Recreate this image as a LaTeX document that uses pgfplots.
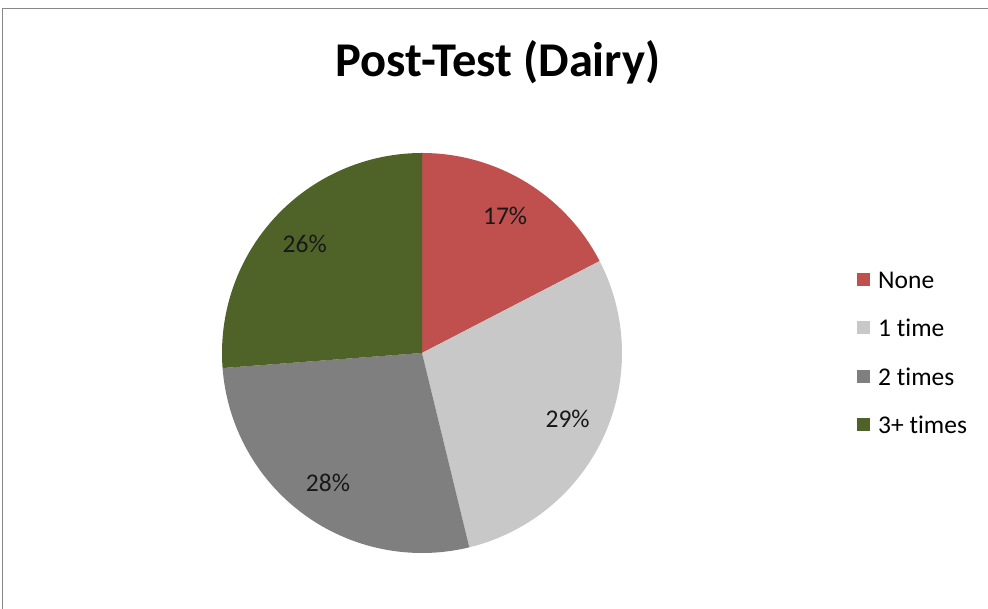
\documentclass[border=0pt]{standalone}
\usepackage{pgfplots}
\pgfplotsset{compat=1.18}
\usetikzlibrary{calc}
\usepackage{fontspec}
\setmainfont[RawFeature=-liga]{Carlito}
\definecolor{cNone}{HTML}{C0504D}
\definecolor{cOne}{HTML}{C8C8C8}
\definecolor{cTwo}{HTML}{7F7F7F}
\definecolor{cThree}{HTML}{4F6228}
\definecolor{frame}{HTML}{888888}
\begin{document}
\begin{tikzpicture}
\begin{axis}[x=1pt,y=1pt,xmin=0,xmax=988,ymin=0,ymax=609,hide axis,clip=false,scale only axis]
\addplot[draw=none] coordinates {(0,0) (988,609)};
\pgfplotsextra{
  \xdef\sa{90}
  \foreach \v/\c/\p in {17.4/cNone/17, 28.8/cOne/29, 27.6/cTwo/28, 26.2/cThree/26}{
    \pgfmathsetmacro\sb{\sa-3.6*\v}
    \pgfmathsetmacro\sm{(\sa+\sb)/2}
    \fill[\c] (axis cs:422,256) -- +(\sa:200pt) arc[start angle=\sa, end angle=\sb, radius=200pt] -- cycle;
    \node[font=\fontsize{25.5}{30}\selectfont, text=black!90] at ($(axis cs:422,256)+(\sm:160pt)$) {\p\%};
    \xdef\sa{\sb}
  }
  \draw[frame, line width=1.5pt] (axis cs:2.5,0) -- (axis cs:2.5,600.5) -- (axis cs:988,600.5);
  \node[font=\bfseries\fontsize{48.5}{56}\selectfont] at (axis cs:498,547) {Post-Test (Dairy)};
  \foreach \c/\t/\y in {cNone/None/280, cOne/1 time/328, cTwo/2 times/377, cThree/3+ times/425}{
    \fill[\c] (axis cs:857,{609-\y-6.5}) rectangle ++(13pt,13pt);
    \node[anchor=west, inner sep=0pt, font=\fontsize{25.5}{30}\selectfont] at (axis cs:878,{609-\y}) {\t};
  }
}
\end{axis}
\pgfresetboundingbox
\useasboundingbox (current axis.south west) rectangle (current axis.north east);
\end{tikzpicture}
\end{document}
